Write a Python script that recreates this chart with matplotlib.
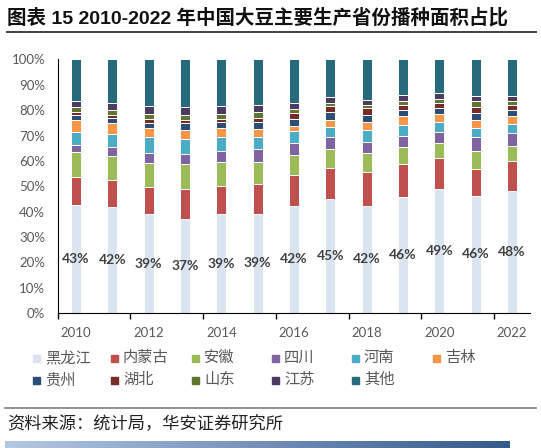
import numpy as np
import matplotlib
matplotlib.use('Agg')
import matplotlib.pyplot as plt
from matplotlib.patches import Rectangle
from matplotlib.lines import Line2D
from matplotlib.colors import LinearSegmentedColormap

plt.rcParams['font.family'] = ['Lato', 'Noto Sans CJK SC', 'DejaVu Sans']

# === dati (% della superficie seminata) ===
years = list(range(2010, 2023))
provinces = ['黑龙江', '内蒙古', '安徽', '四川', '河南', '吉林', '贵州', '湖北', '山东', '江苏', '其他']
colors = ['#dbe5f1', '#c0504d', '#9bbb59', '#8064a2', '#4bacc6', '#f79646',
          '#2c4d75', '#772c2a', '#5f7530', '#4d3b62', '#276a7c']

heilongjiang = [42.8, 42.0, 39.0, 37.0, 39.0, 39.1, 42.4, 45.0, 42.3, 45.6, 48.8, 46.2, 48.1]
neimenggu = [10.8, 10.6, 10.6, 11.8, 11.0, 11.8, 12.2, 12.3, 13.2, 13.2, 12.2, 10.6, 11.8]
anhui = [9.8, 9.3, 9.7, 9.9, 9.7, 8.8, 7.7, 7.4, 7.6, 6.8, 6.2, 7.0, 6.1]
sichuan = [3.0, 3.4, 3.9, 3.9, 4.2, 4.9, 4.8, 4.7, 4.5, 4.2, 4.3, 5.5, 5.1]
henan = [5.1, 5.4, 6.2, 6.0, 5.5, 4.9, 4.5, 4.0, 4.5, 4.3, 3.8, 3.7, 3.6]
jilin = [4.7, 4.1, 3.5, 3.7, 3.5, 3.1, 2.3, 2.9, 3.4, 3.6, 3.3, 3.3, 3.0]
guizhou = [1.9, 2.0, 2.2, 2.8, 2.3, 2.9, 2.8, 2.9, 2.5, 2.2, 2.3, 2.5, 2.2]
hubei = [1.2, 1.5, 1.3, 1.2, 1.3, 1.5, 2.0, 2.3, 2.7, 2.3, 1.9, 2.6, 2.1]
shandong = [1.9, 1.8, 2.1, 2.0, 2.1, 2.4, 1.7, 1.5, 1.2, 1.4, 1.8, 2.1, 1.7]
jiangsu = [2.6, 2.8, 3.2, 3.1, 3.1, 2.6, 2.5, 2.3, 2.1, 2.2, 2.0, 2.2, 2.0]
qita = [16.2, 17.1, 18.3, 18.6, 18.3, 18.0, 17.1, 14.7, 16.0, 14.2, 13.4, 14.3, 14.3]

series = [heilongjiang, neimenggu, anhui, sichuan, henan, jilin,
          guizhou, hubei, shandong, jiangsu, qita]

W, H = 541, 448
fig = plt.figure(figsize=(W / 100, H / 100), dpi=100)

def fx(px):
    return px / W

def fy(py):
    return 1 - py / H

# === area del grafico ===
ax = fig.add_axes([fx(57.8), fy(313), fx(530.2) - fx(57.8), fy(59.5) - fy(313)])
x = np.arange(len(years))
bottom = np.zeros(len(years))
for name, vals, c in zip(provinces, series, colors):
    ax.bar(x, vals, bottom=bottom, width=0.28, color=c, edgecolor='white',
           linewidth=0.7, label=name)
    bottom += np.array(vals)

for i, v in enumerate(heilongjiang):
    ax.text(i, v / 2, f'{v:.0f}%', ha='center', va='center', fontsize=10,
            fontweight='bold', color='#404040')

ax.set_xlim(-0.5, len(years) - 0.5)
ax.set_ylim(0, 100)
ax.set_yticks(range(0, 101, 10))
ax.set_yticklabels([f'{t}%' for t in range(0, 101, 10)])
ax.set_xticks(x[::2])
ax.set_xticklabels([str(y) for y in years[::2]])
ax.set_xticks(np.arange(-0.5, len(years) - 1, 2), minor=True)
ax.tick_params(axis='y', length=0, pad=9, labelsize=9.5, labelcolor='#595959')
ax.tick_params(axis='x', which='major', length=0, pad=10, labelsize=9.5, labelcolor='#595959')
ax.tick_params(axis='x', which='minor', length=4, width=1, color='black', direction='out')
for s in ['top', 'right']:
    ax.spines[s].set_visible(False)
ax.spines['left'].set_color('black')
ax.spines['bottom'].set_color('black')

# === legenda ===
col_x = [33, 111, 192, 272, 352, 433]
row_y = [358, 380]
for k, (name, c) in enumerate(zip(provinces, colors)):
    r, col = divmod(k, 6)
    px, py = col_x[col], row_y[r]
    fig.patches.append(Rectangle((fx(px), fy(py + 3.5)), 7 / W, 7 / H,
                                 transform=fig.transFigure, color=c))
    fig.text(fx(px + 12), fy(py), name, fontsize=11, color='#595959',
             ha='left', va='center')

# === titolo e fonte ===
fig.text(fx(7), fy(18), '图表 15 2010-2022 年中国大豆主要生产省份播种面积占比',
         fontsize=14, fontweight='bold', ha='left', va='center',
         family=['Liberation Sans', 'Noto Sans CJK SC'], color='#111111')
fig.add_artist(Line2D([fx(7), fx(536)], [fy(32), fy(32)], color='#404040', lw=1.4))
fig.add_artist(Line2D([fx(5), fx(536)], [fy(407.7), fy(407.7)], color='#7f7f7f', lw=1.2))
fig.text(fx(7), fy(424), '资料来源：统计局，华安证券研究所', fontsize=12.4,
         ha='left', va='center', family=['Noto Sans CJK SC'], color='#222222')

gax = fig.add_axes([fx(5), 0, fx(510) - fx(5), 7 / H])
cmap = LinearSegmentedColormap.from_list('band', ['#b3c9e4', '#35598a'])
gax.imshow(np.linspace(0, 1, 256).reshape(1, -1), aspect='auto', cmap=cmap)
gax.set_axis_off()

fig.savefig('out.png', dpi=100)
